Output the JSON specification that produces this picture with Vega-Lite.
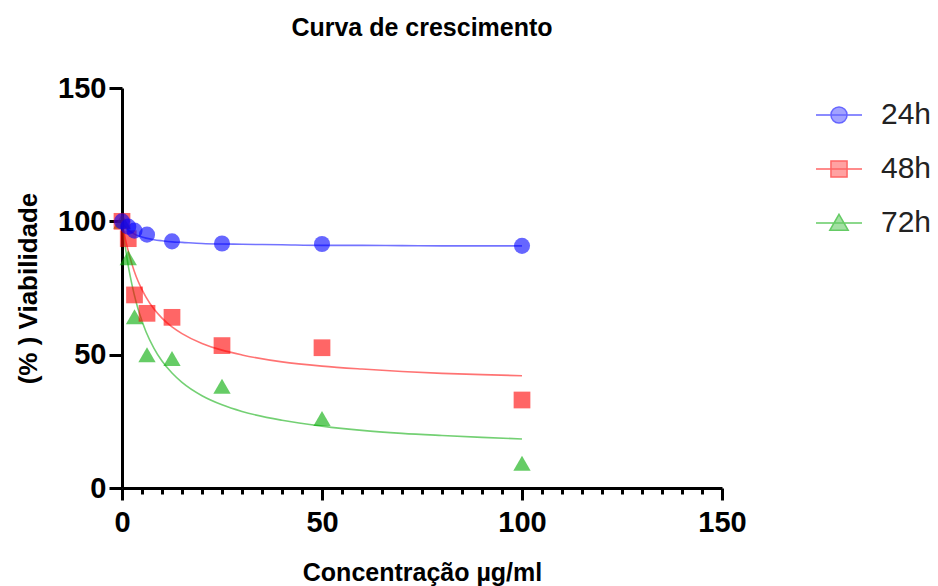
{
  "$schema": "https://vega.github.io/schema/vega-lite/v6.json",
  "width": 600,
  "height": 400,
  "autosize": {"type": "none"},
  "padding": {"left": 122, "top": 88, "right": 216, "bottom": 98},
  "background": "white",
  "title": {"text": "Curva de crescimento", "font": "Liberation Sans", "fontSize": 25, "fontWeight": "bold", "color": "black", "anchor": "middle", "offset": 33},
  "config": {
    "view": {"stroke": null},
    "axis": {
      "domainColor": "black", "domainWidth": 3, "tickColor": "black", "tickWidth": 3, "grid": false,
      "labelFont": "Liberation Sans", "labelFontWeight": "bold", "labelFontSize": 29, "labelColor": "black",
      "titleFont": "Liberation Sans", "titleFontWeight": "bold", "titleFontSize": 26, "titleColor": "black",
      "labelFlush": false, "labelOverlap": false
    }
  },
  "datasets": {
    "curves": [
      {"serie": "24h", "x": 0, "y": 100}, {"serie": "24h", "x": 0.5, "y": 98.6}, {"serie": "24h", "x": 1, "y": 97.6}, {"serie": "24h", "x": 1.5, "y": 96.8}, {"serie": "24h", "x": 2, "y": 96.2}, {"serie": "24h", "x": 3, "y": 95.3}, {"serie": "24h", "x": 4, "y": 94.6}, {"serie": "24h", "x": 5, "y": 94.1}, {"serie": "24h", "x": 6, "y": 93.7}, {"serie": "24h", "x": 8, "y": 93.1}, {"serie": "24h", "x": 10, "y": 92.7}, {"serie": "24h", "x": 12.5, "y": 92.3}, {"serie": "24h", "x": 15, "y": 92.1}, {"serie": "24h", "x": 20, "y": 91.7}, {"serie": "24h", "x": 25, "y": 91.5}, {"serie": "24h", "x": 30, "y": 91.4}, {"serie": "24h", "x": 40, "y": 91.2}, {"serie": "24h", "x": 50, "y": 91.0}, {"serie": "24h", "x": 60, "y": 91.0}, {"serie": "24h", "x": 70, "y": 90.9}, {"serie": "24h", "x": 80, "y": 90.8}, {"serie": "24h", "x": 90, "y": 90.8}, {"serie": "24h", "x": 100, "y": 90.8},
      {"serie": "48h", "x": 0, "y": 100}, {"serie": "48h", "x": 0.5, "y": 95.9}, {"serie": "48h", "x": 1, "y": 92.3}, {"serie": "48h", "x": 1.5, "y": 89.2}, {"serie": "48h", "x": 2, "y": 86.4}, {"serie": "48h", "x": 3, "y": 81.6}, {"serie": "48h", "x": 4, "y": 77.6}, {"serie": "48h", "x": 5, "y": 74.4}, {"serie": "48h", "x": 6, "y": 71.6}, {"serie": "48h", "x": 8, "y": 67.1}, {"serie": "48h", "x": 10, "y": 63.7}, {"serie": "48h", "x": 12.5, "y": 60.4}, {"serie": "48h", "x": 15, "y": 57.9}, {"serie": "48h", "x": 20, "y": 54.2}, {"serie": "48h", "x": 25, "y": 51.7}, {"serie": "48h", "x": 30, "y": 49.9}, {"serie": "48h", "x": 40, "y": 47.3}, {"serie": "48h", "x": 50, "y": 45.7}, {"serie": "48h", "x": 60, "y": 44.6}, {"serie": "48h", "x": 70, "y": 43.7}, {"serie": "48h", "x": 80, "y": 43.0}, {"serie": "48h", "x": 90, "y": 42.5}, {"serie": "48h", "x": 100, "y": 42.1},
      {"serie": "72h", "x": 0, "y": 100}, {"serie": "72h", "x": 0.5, "y": 93.9}, {"serie": "72h", "x": 1, "y": 88.6}, {"serie": "72h", "x": 1.5, "y": 83.9}, {"serie": "72h", "x": 2, "y": 79.8}, {"serie": "72h", "x": 3, "y": 72.9}, {"serie": "72h", "x": 4, "y": 67.2}, {"serie": "72h", "x": 5, "y": 62.6}, {"serie": "72h", "x": 6, "y": 58.6}, {"serie": "72h", "x": 8, "y": 52.4}, {"serie": "72h", "x": 10, "y": 47.6}, {"serie": "72h", "x": 12.5, "y": 43.1}, {"serie": "72h", "x": 15, "y": 39.6}, {"serie": "72h", "x": 20, "y": 34.6}, {"serie": "72h", "x": 25, "y": 31.2}, {"serie": "72h", "x": 30, "y": 28.7}, {"serie": "72h", "x": 40, "y": 25.4}, {"serie": "72h", "x": 50, "y": 23.2}, {"serie": "72h", "x": 60, "y": 21.6}, {"serie": "72h", "x": 70, "y": 20.5}, {"serie": "72h", "x": 80, "y": 19.7}, {"serie": "72h", "x": 90, "y": 19.0}, {"serie": "72h", "x": 100, "y": 18.4}
    ],
    "points": [
      {"serie": "72h", "x": 0, "y": 100}, {"serie": "72h", "x": 1.56, "y": 86.3}, {"serie": "72h", "x": 3.125, "y": 64.2}, {"serie": "72h", "x": 6.25, "y": 50.0}, {"serie": "72h", "x": 12.5, "y": 48.6}, {"serie": "72h", "x": 25, "y": 38.2}, {"serie": "72h", "x": 50, "y": 26.1}, {"serie": "72h", "x": 100, "y": 9.3},
      {"serie": "48h", "x": 0, "y": 100}, {"serie": "48h", "x": 1.56, "y": 93.5}, {"serie": "48h", "x": 3.125, "y": 72.4}, {"serie": "48h", "x": 6.25, "y": 65.5}, {"serie": "48h", "x": 12.5, "y": 64.0}, {"serie": "48h", "x": 25, "y": 53.4}, {"serie": "48h", "x": 50, "y": 52.6}, {"serie": "48h", "x": 100, "y": 33.0},
      {"serie": "24h", "x": 0, "y": 100}, {"serie": "24h", "x": 1.56, "y": 98.0}, {"serie": "24h", "x": 3.125, "y": 96.5}, {"serie": "24h", "x": 6.25, "y": 95.0}, {"serie": "24h", "x": 12.5, "y": 92.5}, {"serie": "24h", "x": 25, "y": 91.7}, {"serie": "24h", "x": 50, "y": 91.5}, {"serie": "24h", "x": 100, "y": 90.8}
    ]
  },
  "encoding": {
    "x": {
      "field": "x", "type": "quantitative",
      "scale": {"domain": [0, 150], "nice": false, "zero": false},
      "axis": {
        "title": "Concentração µg/ml",
        "values": [0, 5, 10, 15, 20, 25, 30, 35, 40, 45, 50, 55, 60, 65, 70, 75, 80, 85, 90, 95, 100, 105, 110, 115, 120, 125, 130, 135, 140, 145, 150],
        "labelExpr": "datum.value % 50 === 0 ? datum.label : ''",
        "tickSize": {"condition": {"test": "datum.value % 50 === 0", "value": 12}, "value": 6},
        "labelPadding": 8,
        "titlePadding": 23,
        "titleFontSize": 25
      }
    },
    "y": {
      "field": "y", "type": "quantitative",
      "scale": {"domain": [0, 150], "nice": false, "zero": false},
      "axis": {
        "title": "(% ) Viabilidade",
        "values": [0, 50, 100, 150],
        "tickSize": 13,
        "labelPadding": 3,
        "titlePadding": 16
      }
    }
  },
  "layer": [
    {
      "data": {"name": "curves"},
      "transform": [{"filter": "datum.serie === '72h'"}],
      "mark": {"type": "line", "strokeWidth": 1.6, "opacity": 0.55, "interpolate": "monotone", "color": "#00AA00"}
    },
    {
      "data": {"name": "curves"},
      "transform": [{"filter": "datum.serie === '48h'"}],
      "mark": {"type": "line", "strokeWidth": 1.6, "opacity": 0.55, "interpolate": "monotone", "color": "#FF0000"}
    },
    {
      "data": {"name": "curves"},
      "transform": [{"filter": "datum.serie === '24h'"}],
      "mark": {"type": "line", "strokeWidth": 1.6, "opacity": 0.55, "interpolate": "monotone", "color": "#0000FF"}
    },
    {
      "data": {"name": "points"},
      "transform": [{"filter": "datum.serie === '72h'"}],
      "mark": {"type": "point", "shape": "triangle-up", "filled": true, "size": 300, "opacity": 0.6, "color": "#00AA00"}
    },
    {
      "data": {"name": "points"},
      "transform": [{"filter": "datum.serie === '48h'"}],
      "mark": {"type": "point", "shape": "square", "filled": true, "size": 280, "opacity": 0.6, "color": "#FF0000"}
    },
    {
      "data": {"name": "points"},
      "transform": [{"filter": "datum.serie === '24h'"}],
      "mark": {"type": "point", "shape": "circle", "filled": true, "size": 260, "opacity": 0.6, "color": "#0000FF"}
    },
    {
      "data": {"name": "points"},
      "transform": [{"filter": "false"}],
      "mark": {"type": "point", "filled": true, "opacity": 0.6, "strokeWidth": 1.5},
      "encoding": {
        "fill": {"field": "serie", "type": "nominal", "scale": {"domain": ["24h", "48h", "72h"], "range": ["#0000FF", "#FF0000", "#00AA00"]},
          "legend": {"title": null, "orient": "none", "legendX": 693, "legendY": 3, "symbolSize": 2116, "symbolStrokeWidth": 1.5, "labelFont": "Liberation Sans", "labelFontSize": 30, "labelColor": "#222222", "labelOffset": 18, "rowPadding": 15, "padding": 0}},
        "stroke": {"field": "serie", "type": "nominal", "scale": {"domain": ["24h", "48h", "72h"], "range": ["#0000FF", "#FF0000", "#00AA00"]},
          "legend": {"title": null, "orient": "none", "legendX": 693, "legendY": 3, "symbolSize": 2116, "symbolStrokeWidth": 1.5, "labelFont": "Liberation Sans", "labelFontSize": 30, "labelColor": "#222222", "labelOffset": 18, "rowPadding": 15, "padding": 0}},
        "shape": {"field": "serie", "type": "nominal",
          "scale": {"domain": ["24h", "48h", "72h"], "range": [
            "M-1,0L1,0M0.35,0A0.35,0.35,0,1,1,-0.35,0A0.35,0.35,0,1,1,0.35,0Z",
            "M-1,0L1,0M-0.35,-0.35L0.35,-0.35L0.35,0.35L-0.35,0.35Z",
            "M-1,0L1,0M0,-0.38L0.4,0.32L-0.4,0.32Z"
          ]},
          "legend": {"title": null, "orient": "none", "legendX": 693, "legendY": 3, "symbolSize": 2116, "symbolStrokeWidth": 1.5, "labelFont": "Liberation Sans", "labelFontSize": 30, "labelColor": "#222222", "labelOffset": 18, "rowPadding": 15, "padding": 0}}
      }
    }
  ]
}
